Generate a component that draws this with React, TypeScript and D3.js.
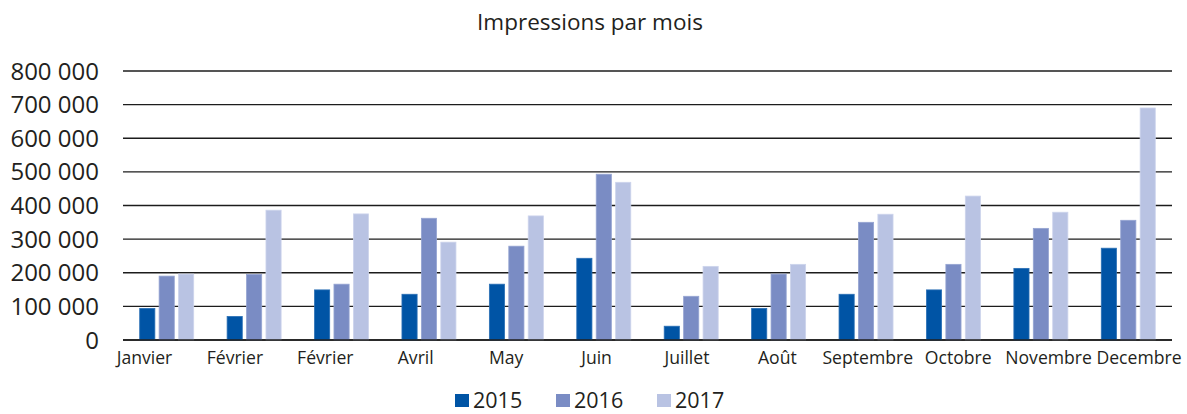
import React from "react";
import * as d3 from "d3";

const months = ["Janvier", "Février", "Février", "Avril", "May", "Juin", "Juillet", "Août", "Septembre", "Octobre", "Novembre", "Decembre"];
const seriesNames = ["2015", "2016", "2017"];
const values2015 = [94000, 70000, 149000, 136000, 166000, 243000, 41000, 94000, 136000, 149000, 213000, 273000];
const values2016 = [190000, 195000, 166000, 362000, 279000, 493000, 130000, 196000, 350000, 225000, 332000, 356000];
const values2017 = [196000, 386000, 375000, 291000, 369000, 469000, 219000, 225000, 374000, 428000, 380000, 690000];
const yTicks = [0, 100000, 200000, 300000, 400000, 500000, 600000, 700000, 800000];
const colors = ["#0054a5", "#7a8cc4", "#b9c3e3"];
const strokes = ["#2a6fb5", "#95a4d2", "#cdd4ec"];

const W = 1187;
const H = 414;
const FONT = "'Open Sans', 'Noto Sans', sans-serif";

export default function App() {
  const series = [values2015, values2016, values2017];
  const x0 = d3.scaleBand<number>().domain(d3.range(months.length)).range([123, 1172]).paddingInner(0).paddingOuter(0);
  const groupW = 54;
  const x1 = d3.scaleBand<string>().domain(seriesNames).range([0, groupW]).paddingInner(0.22).paddingOuter(0);
  const y = d3.scaleLinear().domain([0, 800000]).range([340, 71]);
  const labelX = d3.scalePoint<number>().domain(d3.range(months.length)).range([144.5, 1139]);
  const fmt = (v: number) => d3.format(",")(v).replace(/,/g, " ");
  const legendX = d3.scalePoint<string>().domain(seriesNames).range([455, 657]);

  return (
    <svg width={W} height={H} style={{ position: "absolute", left: 0, top: 0, background: "#fff" }} fontFamily={FONT}>
      <text x={590} y={30} textAnchor="middle" fontSize={22.5} fill="#231f20">Impressions par mois</text>
      {yTicks.map((t) => (
        <g key={t}>
          <line x1={123} x2={1172} y1={y(t)} y2={y(t)} stroke="#1c1c1c" strokeWidth={1.4} />
          <text x={99} y={y(t) + 8.5} textAnchor="end" fontSize={24} fill="#231f20">{fmt(t)}</text>
        </g>
      ))}
      {months.map((m, i) => {
        const gx = (x0(i) as number) + x0.bandwidth() / 2 - groupW / 2;
        return (
          <g key={i}>
            {series.map((s, k) => (
              <rect
                key={k}
                x={gx + (x1(seriesNames[k]) as number)}
                y={y(s[i])}
                width={x1.bandwidth()}
                height={y(0) - y(s[i])}
                fill={colors[k]}
                stroke={strokes[k]}
                strokeWidth={0.8}
              />
            ))}
          </g>
        );
      })}
      <line x1={123} x2={1172} y1={y(0)} y2={y(0)} stroke="#1c1c1c" strokeWidth={1.4} />
      {months.map((m, i) => (
        <text key={i} x={labelX(i)} y={364} textAnchor="middle" fontSize={17.6} fill="#231f20">{m}</text>
      ))}
      {seriesNames.map((n, k) => (
        <g key={n}>
          <rect x={legendX(n)} y={394} width={14} height={13} fill={colors[k]} />
          <text x={(legendX(n) as number) + 18} y={408} fontSize={21.5} fill="#231f20">{n}</text>
        </g>
      ))}
    </svg>
  );
}
